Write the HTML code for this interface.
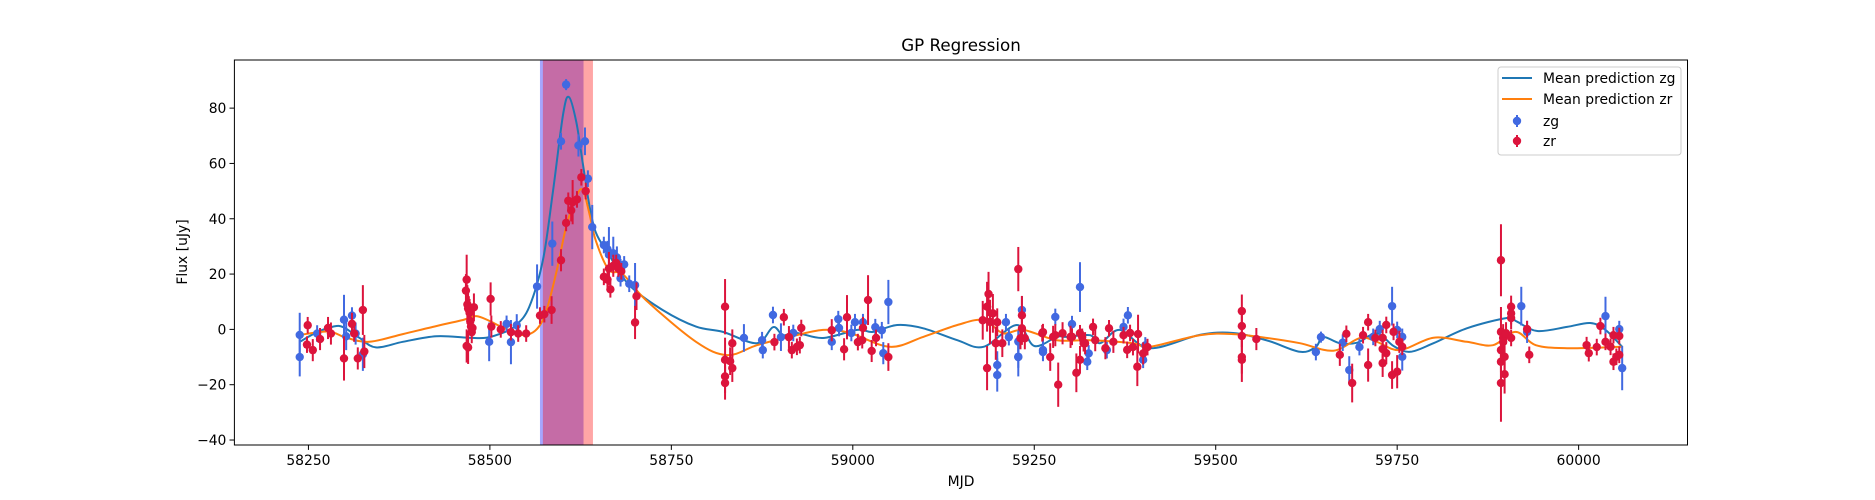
<!DOCTYPE html>
<html><head><meta charset="utf-8"><style>
html,body{margin:0;padding:0;background:#fff;}
svg{display:block;font-family:"DejaVu Sans","Liberation Sans",sans-serif;}
</style></head><body>
<svg id="chart" width="1875" height="500" viewBox="0 0 1875 500" xmlns="http://www.w3.org/2000/svg">
<rect width="1875" height="500" fill="#fff"/>
<g id="spans"></g>
<g id="curves"></g>
<g id="points"></g>
<g id="axes"></g>
<text x="961" y="51" text-anchor="middle" font-size="16.7">GP Regression</text>
<text x="961" y="486" text-anchor="middle" font-size="13.9">MJD</text>
<text x="0" y="0" transform="translate(187,252) rotate(-90)" text-anchor="middle" font-size="13.9">Flux [uJy]</text>
<g>
<rect x="1498" y="67" width="183" height="88" rx="3" fill="#fff" fill-opacity="0.8" stroke="#ccc"/>
<line x1="1502" y1="78" x2="1532" y2="78" stroke="#1f77b4" stroke-width="2"/>
<text x="1543" y="83" font-size="13.9">Mean prediction zg</text>
<line x1="1502" y1="99" x2="1532" y2="99" stroke="#ff7f0e" stroke-width="2"/>
<text x="1543" y="104" font-size="13.9">Mean prediction zr</text>
<line x1="1517" y1="115" x2="1517" y2="127" stroke="#4169e1" stroke-width="2"/>
<circle cx="1517" cy="121" r="4.2" fill="#4169e1"/>
<text x="1543" y="126" font-size="13.9">zg</text>
<line x1="1517" y1="135" x2="1517" y2="147" stroke="#dc143c" stroke-width="2"/>
<circle cx="1517" cy="141" r="4.2" fill="#dc143c"/>
<text x="1543" y="146" font-size="13.9">zr</text>
</g>
</svg>
<script>
const xTicks = [58250,58500,58750,59000,59250,59500,59750,60000];
const yTicks = [-40,-20,0,20,40,60,80];
const spanZg = [58569,58629];
const spanZr = [58573,58642];

const zgMjd = [58238,58238,58262,58299,58302,58310,58315,58325,58499,58523,58529,58537,58565,58586,58598,58605,58622,58631,58635,58641,58657,58662,58664,58670,58675,58680,58685,58680,58692,58700,58850,58875,58876,58890,58901,58918,58971,58980,58981,58998,59003,59014,59031,59040,59042,59049,59211,59215,59233,59228,59228,59313,59279,59302,59262,59379,59373,59350,59403,59325,59199,59199,59228,59262,59323,59400,59638,59645,59675,59684,59698,59717,59726,59743,59750,59757,59757,59921,59929,60037,60056,60060];
const zgFlux = [-2,-10,-1.5,3.5,-2.5,5,-1.5,-9,-4.5,2,-4.6,1.5,15.5,31,68,88.5,66.5,68,54.5,37,30.5,29,27,27.5,26,22.5,23.5,18.5,16.5,16,-3.1,-3.9,-7.5,5.2,-2.8,-1.3,-4.5,3.7,0.5,-1.3,2.6,2.6,0.8,-0.3,-8.6,9.9,2.6,-2.8,7,-10,-4.4,15.3,4.5,1.9,-8.2,5.1,0.9,-7.5,-5.8,-8.7,-12.9,-16.5,-9.9,-7.5,-11.7,-11,-8.2,-2.8,-4.8,-14.7,-6.4,-2.7,0.1,8.4,-0.2,-9.9,-2.7,8.4,-0.9,4.8,0.1,-14];
const zgErr = [8,7,3,9,5,3,4,6,7,3,8,4,8,8,3,2,4,5,3,8,3,3,10,6,4,3,3,3,3,8,5,3,3,3,5,3,3,3,3,3,3,3,3,3,4,8,3,3,5,7,4,9,3,3,3,3,3,3,3,3,5,6,4,4,3,3,3,2,3,5,3,3,3,7,3,5,3,7,4,7,3,8];

const zrMjd = [58249,58248,58256,58266,58277,58281,58299,58310,58313,58318,58325,58327,58467,58468,58469,58470,58471,58472,58473,58474,58475,58468,58470,58476,58478,58501,58502,58515,58529,58539,58550,58569,58575,58585,58598,58605,58608,58612,58614,58620,58626,58632,58657,58662,58666,58664,58670,58674,58677,58681,58702,58700,58824,58824,58834,58824,58824,58831,58834,58892,58905,58912,58916,58923,58929,58927,58971,58992,58988,59007,59013,59021,59014,59032,59026,59049,59187,59185,59228,59179,59189,59193,59199,59197,59206,59233,59233,59231,59237,59261,59272,59279,59289,59300,59313,59318,59262,59276,59302,59316,59320,59331,59334,59348,59353,59359,59373,59382,59393,59386,59406,59400,59378,59185,59283,59308,59313,59392,59536,59536,59536,59536,59536,59556,59671,59680,59688,59703,59710,59710,59720,59730,59730,59730,59735,59735,59743,59750,59745,59753,59757,59893,59893,59893,59893,59893,59896,59896,59898,59898,59900,59907,59907,59907,59907,59929,59932,60011,60014,60025,60030,60037,60044,60048,60048,60052,60056,60056];
const zrFlux = [1.5,-5.5,-7.5,-3.5,0.5,-1.5,-10.5,2,-1.5,-10.5,7,-8,14,18,9,7.5,8,6,3,1,-1,-6,-6.5,0.5,8,11,1,0,-1,-1.5,-1.5,5,5.5,7,25,38.5,46.5,43,46,47,55,50,19,18,14.5,22,23,24,22,21,12,2.5,8.2,-11,-5,-17,-19.4,-11.5,-14,-4.6,4.4,-2.8,-7.5,-6.3,0.5,-5.7,-0.3,4.4,-7.2,-4.6,-3.9,10.6,0.5,-3.1,-7.8,-10,12.8,8.2,21.8,3.3,2.7,5.8,2.6,-5,-5,5.1,0.4,-3.2,-3.2,-1.4,-10,-2.1,-1.4,-2.7,-1.4,-5,-1,-2.7,-2.7,-2.7,-5,0.9,-3.9,-6.8,0.4,-4.5,-2.1,-1.3,-1.7,-6.4,-6.4,-8.7,-7.4,-14,-20,-15.7,-11,-13.5,6.6,1.2,-2.4,-11,-10,-3.5,-9.2,-1.6,-19.4,-2.1,2.6,-12.9,-3.1,-3.1,-7.1,-12.2,1.6,-8.6,-16.5,-15.3,-0.9,-4.5,-6.3,25,-0.9,-7.5,-11.7,-19.4,-3.1,-4.5,-9.9,-16.2,-1.4,8.2,5.8,4.1,-3.1,0.1,-9.2,-5.7,-8.6,-6.4,1.2,-4.5,-6.3,-2.1,-11.7,-9.9,-2.4,-9.2];
const zrErr = [3,3,4,4,4,4,8,4,3,4,9,6,6,9,7,6,4,5,3,3,4,6,6,3,5,6,4,3,3,3,3,3,3,5,4,3,3,4,8,3,3,3,3,3,3,6,4,3,3,3,5,6,10,8,5,6,6,5,5,3,3,4,3,3,3,3,4,8,4,3,3,9,4,3,4,5,8,9,8,7,8,7,5,6,5,7,6,4,4,3,5,4,4,4,3,3,3,4,3,3,4,3,4,4,3,4,3,3,7,3,3,4,3,8,8,7,5,7,6,5,4,8,6,4,4,3,7,3,3,6,3,3,4,5,3,4,5,6,3,4,3,13,9,8,7,14,5,5,6,7,4,4,4,4,3,3,3,3,3,3,3,3,3,3,3,3,3,3];

const zgMeanMjd = [58238,58262,58284,58298,58320,58343,58380,58426,58470,58495,58520,58536,58554,58573,58587,58601,58609,58619,58628,58637,58646,58664,58692,58738,58784,58821,58868,58890,58904,58923,58959,59006,59028,59061,59097,59144,59180,59226,59250,59281,59295,59327,59341,59368,59409,59478,59524,59571,59616,59638,59648,59671,59695,59722,59745,59768,59800,59846,59901,59915,59943,59984,60016,60037,60060];
const zgMean = [-4.5,-1,1,0.8,-3,-6.5,-4.5,-2.5,-3,-3,-1,1.5,8,25,50,78,84,75,60,45,35,27,16,7,1,-0.9,-5,0.8,-2.1,-1.3,-3.1,-0.2,-0.9,1.6,0.4,-3.9,-6.3,1.6,-6,-2.7,-2.7,-2.1,-5,-0.2,-6.8,-2,-1.3,-4,-8.1,-6.3,-2.7,-5,-4.8,-1.4,-6,-8.1,-5,0.4,4.1,2.8,-0.6,0.9,2.3,-0.2,-6.3];
const zrMeanMjd = [58238,58278,58302,58334,58380,58426,58463,58481,58499,58518,58550,58573,58591,58605,58619,58628,58637,58646,58664,58683,58715,58784,58827,58868,58913,58959,58996,59051,59097,59144,59180,59207,59235,59281,59327,59386,59409,59478,59524,59571,59616,59662,59699,59722,59754,59800,59846,59882,59913,59941,59984,60060];
const zrMean = [-2,-0.8,-3,-4.5,-1.7,1.2,3.4,4.8,3.1,0.7,-2,3.4,20,37,48,50.4,42,32,21.5,20,10.6,-4.5,-9.3,-5.7,-2.7,-0.2,-1.3,-6.3,-2.7,1.6,3.4,-1.4,-0.2,-3.9,-3.9,-5,-6.3,-2.1,-1.7,-3.1,-5,-7.7,-3.1,-4.5,-7.5,-3,-4.5,-5.7,-0.9,-5.7,-6.8,-6.3];

const NS='http://www.w3.org/2000/svg';
const L=234.4,R=1687.5,T=60,B=445;
const xMin=58148,xMax=60150,yMin=-41.8,yMax=97.4;
function sx(v){return L+(v-xMin)/(xMax-xMin)*(R-L);}
function sy(v){return B-(v-yMin)/(yMax-yMin)*(B-T);}
function mk(tag,attrs,parent){const e=document.createElementNS(NS,tag);for(const k in attrs)e.setAttribute(k,attrs[k]);parent.appendChild(e);return e;}

const spans=document.getElementById('spans');
const s1=mk('rect',{x:sx(spanZg[0]),y:T,width:sx(spanZg[1])-sx(spanZg[0]),height:B-T,fill:'#0000ff','fill-opacity':0.35},spans);


const s2=mk('rect',{x:sx(spanZr[0]),y:T,width:sx(spanZr[1])-sx(spanZr[0]),height:B-T,fill:'#ff0000','fill-opacity':0.35},spans);



function smoothPath(xs,ys){
  const p=xs.map((x,i)=>[sx(x),sy(ys[i])]);
  let d='M'+p[0][0].toFixed(1)+','+p[0][1].toFixed(1);
  for(let i=0;i<p.length-1;i++){
    const p0=p[Math.max(0,i-1)],p1=p[i],p2=p[i+1],p3=p[Math.min(p.length-1,i+2)];
    const c1=[p1[0]+(p2[0]-p0[0])/6,p1[1]+(p2[1]-p0[1])/6];
    const c2=[p2[0]-(p3[0]-p1[0])/6,p2[1]-(p3[1]-p1[1])/6];
    d+=' C'+c1[0].toFixed(1)+','+c1[1].toFixed(1)+' '+c2[0].toFixed(1)+','+c2[1].toFixed(1)+' '+p2[0].toFixed(1)+','+p2[1].toFixed(1);
  }
  return d;
}
const curves=document.getElementById('curves');
const c1=mk('path',{d:smoothPath(zgMeanMjd,zgMean),fill:'none',stroke:'#1f77b4','stroke-width':2},curves);


const c2=mk('path',{d:smoothPath(zrMeanMjd,zrMean),fill:'none',stroke:'#ff7f0e','stroke-width':2},curves);



const pts=document.getElementById('points');
function drawSeries(xs,ys,es,color,name){
  const g=mk('g',{},pts);
  
  
  for(let i=0;i<xs.length;i++){
    const x=sx(xs[i]);
    const ln=mk('line',{x1:x,x2:x,y1:sy(ys[i]-es[i]),y2:sy(ys[i]+es[i]),stroke:color,'stroke-width':2},g);
    
    
    const c=mk('circle',{cx:x,cy:sy(ys[i]),r:4.2,fill:color},g);
    
    
  }
}
drawSeries(zgMjd,zgFlux,zgErr,'#4169e1','zg');
drawSeries(zrMjd,zrFlux,zrErr,'#dc143c','zr');

const ax=document.getElementById('axes');
const frame=mk('rect',{x:L,y:T,width:R-L,height:B-T,fill:'none',stroke:'#000','stroke-width':1},ax);


xTicks.forEach(v=>{
  const x=sx(v);
  const t=mk('line',{x1:x,x2:x,y1:B,y2:B+4.9,stroke:'#000','stroke-width':1},ax);
  
  
  const lb=mk('text',{x:x,y:B+20,'text-anchor':'middle','font-size':13.9},ax);
  lb.textContent=v;
  
  
});
yTicks.forEach(v=>{
  const y=sy(v);
  const t=mk('line',{x1:L-4.9,x2:L,y1:y,y2:y,stroke:'#000','stroke-width':1},ax);
  
  
  const lb=mk('text',{x:L-8,y:y+5,'text-anchor':'end','font-size':13.9},ax);
  lb.textContent=v<0?'\u2212'+(-v):v;
  
  
});
</script>
</body></html>
